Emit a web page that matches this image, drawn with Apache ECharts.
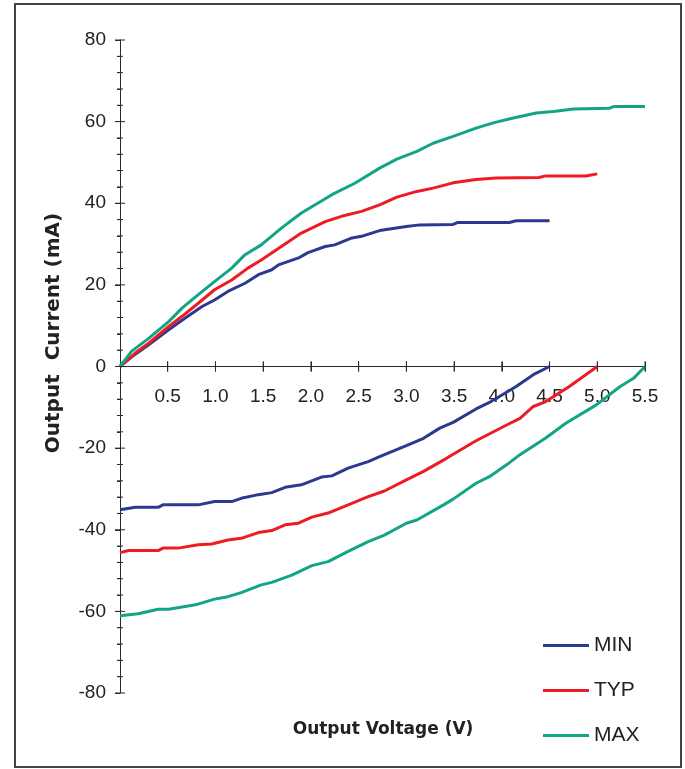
<!DOCTYPE html>
<html>
<head>
<meta charset="utf-8">
<script src="https://cdn.jsdelivr.net/npm/echarts@6/dist/echarts.min.js"></script>
<style>
html,body{margin:0;padding:0;background:#fff;}
#chart{width:685px;height:769px;background:#fff;}
</style>
</head>
<body>
<div id="chart"></div>
<script>
// ---- data (Output Voltage in V, Output Current in mA) ----
var seriesNames = ['MIN', 'TYP', 'MAX'];
var xTickLabels = ['0.5','1.0','1.5','2.0','2.5','3.0','3.5','4.0','4.5','5.0','5.5'];
var yTickLabels = ['80','60','40','20','0','-20','-40','-60','-80'];

var minPosV = [0,0.12,0.30,0.51,0.68,0.86,0.99,1.13,1.31,1.45,1.59,1.66,1.87,1.97,2.15,2.25,2.43,2.53,2.72,3.00,3.14,3.49,3.54,4.08,4.15,4.50];
var minPosI = [0,2.3,5.3,9.0,11.8,14.7,16.3,18.4,20.4,22.5,23.7,24.9,26.6,27.9,29.4,29.8,31.5,31.9,33.3,34.3,34.7,34.8,35.3,35.3,35.7,35.7];

var typPosV = [0,0.16,0.30,0.51,0.65,0.82,0.99,1.17,1.34,1.48,1.69,1.90,2.15,2.32,2.53,2.72,2.90,3.11,3.28,3.49,3.73,3.94,4.39,4.46,4.88,5.00];
var typPosI = [0,3.3,5.7,9.8,12.3,15.5,18.8,21.2,24.1,26.1,29.4,32.7,35.5,36.8,38.0,39.6,41.5,42.9,43.7,45.0,45.8,46.2,46.3,46.7,46.7,47.2];

var maxPosV = [0,0.12,0.30,0.51,0.65,0.82,0.99,1.17,1.31,1.48,1.69,1.90,2.22,2.46,2.72,2.90,3.11,3.28,3.49,3.73,3.91,4.12,4.36,4.54,4.75,5.13,5.17,5.50];
var maxPosI = [0,3.7,6.9,11.0,14.3,17.6,20.8,24.1,27.4,29.8,33.9,37.6,42.1,44.9,48.6,50.8,52.7,54.7,56.4,58.4,59.7,60.9,62.1,62.5,63.1,63.3,63.7,63.7];

var minNegV = [0,0.16,0.40,0.45,0.82,0.99,1.17,1.27,1.45,1.59,1.73,1.90,2.11,2.22,2.39,2.60,2.72,3.00,3.18,3.35,3.49,3.73,3.87,4.15,4.33,4.50];
var minNegI = [-35.1,-34.5,-34.5,-33.9,-33.9,-33.1,-33.1,-32.3,-31.4,-30.9,-29.6,-29.0,-27.1,-26.8,-24.9,-23.3,-22.1,-19.4,-17.6,-15.1,-13.7,-10.4,-8.8,-4.9,-2.0,0];

var typNegV = [0,0.09,0.40,0.45,0.61,0.82,0.96,1.13,1.27,1.45,1.59,1.73,1.87,2.01,2.18,2.39,2.60,2.77,3.00,3.18,3.42,3.73,4.02,4.19,4.33,4.46,4.70,5.00];
var typNegI = [-45.6,-45.1,-45.1,-44.5,-44.5,-43.7,-43.5,-42.5,-42.1,-40.7,-40.2,-38.8,-38.4,-36.9,-35.9,-33.9,-31.9,-30.5,-27.8,-25.7,-22.5,-18.2,-14.7,-12.7,-9.8,-8.6,-5.0,0];

var maxNegV = [0,0.19,0.40,0.51,0.79,0.99,1.13,1.27,1.48,1.59,1.80,2.01,2.18,2.39,2.60,2.77,3.00,3.11,3.39,3.49,3.73,3.87,4.05,4.19,4.46,4.67,4.99,5.24,5.38,5.50];
var maxNegI = [-61.1,-60.6,-59.5,-59.5,-58.4,-57.0,-56.4,-55.4,-53.5,-52.9,-51.1,-48.8,-47.8,-45.3,-42.9,-41.3,-38.4,-37.6,-33.9,-32.5,-28.6,-27.0,-24.1,-21.6,-17.5,-13.9,-9.4,-4.9,-2.9,0];

function pairs(xs, ys) { return xs.map(function (x, i) { return [x, ys[i]]; }); }

var colors = {MIN: '#2B3990', TYP: '#ED1C24', MAX: '#12A585'};
var FONT = 'Liberation Sans, Arial, Helvetica, sans-serif';
var AX = '#2a2a2a';

// tick positions taken from the tick labels (values on the axes' own scales)
var xTickValues = xTickLabels.map(parseFloat);
var yTickValues = yTickLabels.map(parseFloat);
var yMinorValues = [];
for (var k = 0; k < yTickValues.length - 1; k++) {
  var a = yTickValues[k], b = yTickValues[k + 1];
  for (var m = 1; m < 5; m++) yMinorValues.push(a + (b - a) * m / 5);
}

// grid geometry
var W = 685, H = 769;
var G = {left: 120, right: 40, top: 40, bottom: 76};
var plotH = H - G.top - G.bottom;
var plotW = W - G.left - G.right;
var zeroOffsetY = plotH / 2;  // y = 0 lies in the middle of [-80, 80]

function mkSeries(name, xs, ys) {
  return {
    name: name, type: 'line', xAxisIndex: 0, yAxisIndex: 0, z: 3,
    data: pairs(xs, ys), symbol: 'none', smooth: false, silent: true,
    lineStyle: {width: 3, color: colors[name]}, itemStyle: {color: colors[name]}
  };
}

// axis marks drawn as series through the same scales (crossing ticks, x axis line at 0 mA)
function tickSeries(points, size) {
  return {
    type: 'scatter', xAxisIndex: 0, yAxisIndex: 0, z: 3, silent: true,
    symbol: 'rect', symbolSize: size, data: points,
    itemStyle: {color: AX, opacity: 1}, emphasis: {disabled: true}
  };
}
var axisMarkSeries = [
  {type: 'line', xAxisIndex: 0, yAxisIndex: 0, z: 3, silent: true, symbol: 'none',
    data: [[0, 0], [5.5, 0]], lineStyle: {width: 1, color: AX}, emphasis: {disabled: true}},
  tickSeries(xTickValues.map(function (v) { return [v, 0]; }), [1, 10]),
  tickSeries(yTickValues.map(function (v) { return [0, v]; }), [10, 1]),
  tickSeries(yMinorValues.map(function (v) { return [0, v]; }), [6, 1])
];

function xTickAxis(pos) {
  return {
    type: 'value', min: 0, max: 5.5, interval: 0.5, position: pos, offset: -zeroOffsetY, z: 1,
    axisLine: {show: true, onZero: false, lineStyle: {color: AX, width: 1}},
    axisTick: {show: true, length: 5, lineStyle: {color: AX, width: 1}},
    axisLabel: {show: false}, splitLine: {show: false}
  };
}

var chart = echarts.init(document.getElementById('chart'));

var option = {
  animation: false,
  grid: {left: G.left, right: G.right, top: G.top, bottom: G.bottom},
  xAxis: [
    {
      type: 'value', min: 0, max: 5.5, interval: 0.5, position: 'bottom', offset: -zeroOffsetY, z: 1,
      axisLine: {show: false, onZero: false}, axisTick: {show: false}, splitLine: {show: false},
      axisLabel: {show: true, showMinLabel: false, margin: 21, fontSize: 19, color: '#222', fontFamily: FONT,
        formatter: function (v) { var i = Math.round(v / 0.5) - 1; return i >= 0 ? xTickLabels[i] : ' '; }}
    },
    xTickAxis('bottom'),
    xTickAxis('top')
  ],
  yAxis: [
    {
      type: 'value', min: -80, max: 80, interval: 20, position: 'left', z: 1,
      axisLine: {show: true, onZero: false, lineStyle: {color: AX, width: 1}},
      axisTick: {show: true, length: 5, lineStyle: {color: AX, width: 1}},
      minorTick: {show: true, splitNumber: 5, length: 3, lineStyle: {color: AX, width: 1}},
      splitLine: {show: false}, minorSplitLine: {show: false},
      axisLabel: {show: true, margin: 14, fontSize: 19, color: '#222', fontFamily: FONT,
        formatter: function (v) { var i = Math.round((80 - v) / 20); return yTickLabels[i]; }}
    }
  ],
  legend: {
    orient: 'vertical', left: 538, top: 630, icon: 'rect',
    itemWidth: 46, itemHeight: 3, itemGap: 24,
    textStyle: {fontSize: 21, color: '#222', fontFamily: FONT},
    data: seriesNames
  },
  graphic: [
    {type: 'rect', silent: true, z: -10, shape: {x: 15, y: 4, width: 666, height: 763},
      style: {fill: 'rgba(0,0,0,0)', stroke: '#444', lineWidth: 2}},
    {type: 'text', x: 383, y: 730, silent: true,
      style: {text: 'Output Voltage (V)', font: 'bold 17px DejaVu Sans', fill: '#222', align: 'center', verticalAlign: 'middle'}},
    {type: 'text', x: 54, y: 333, rotation: Math.PI / 2, silent: true,
      style: {text: 'Output  Current (mA)', font: 'bold 20px DejaVu Sans', fill: '#222', align: 'center', verticalAlign: 'middle'}}
  ],
  series: axisMarkSeries.concat([
    mkSeries('MIN', minPosV, minPosI),
    mkSeries('MIN', minNegV, minNegI),
    mkSeries('TYP', typPosV, typPosI),
    mkSeries('TYP', typNegV, typNegI),
    mkSeries('MAX', maxPosV, maxPosI),
    mkSeries('MAX', maxNegV, maxNegI)
  ])
};
chart.setOption(option);
</script>
</body>
</html>
